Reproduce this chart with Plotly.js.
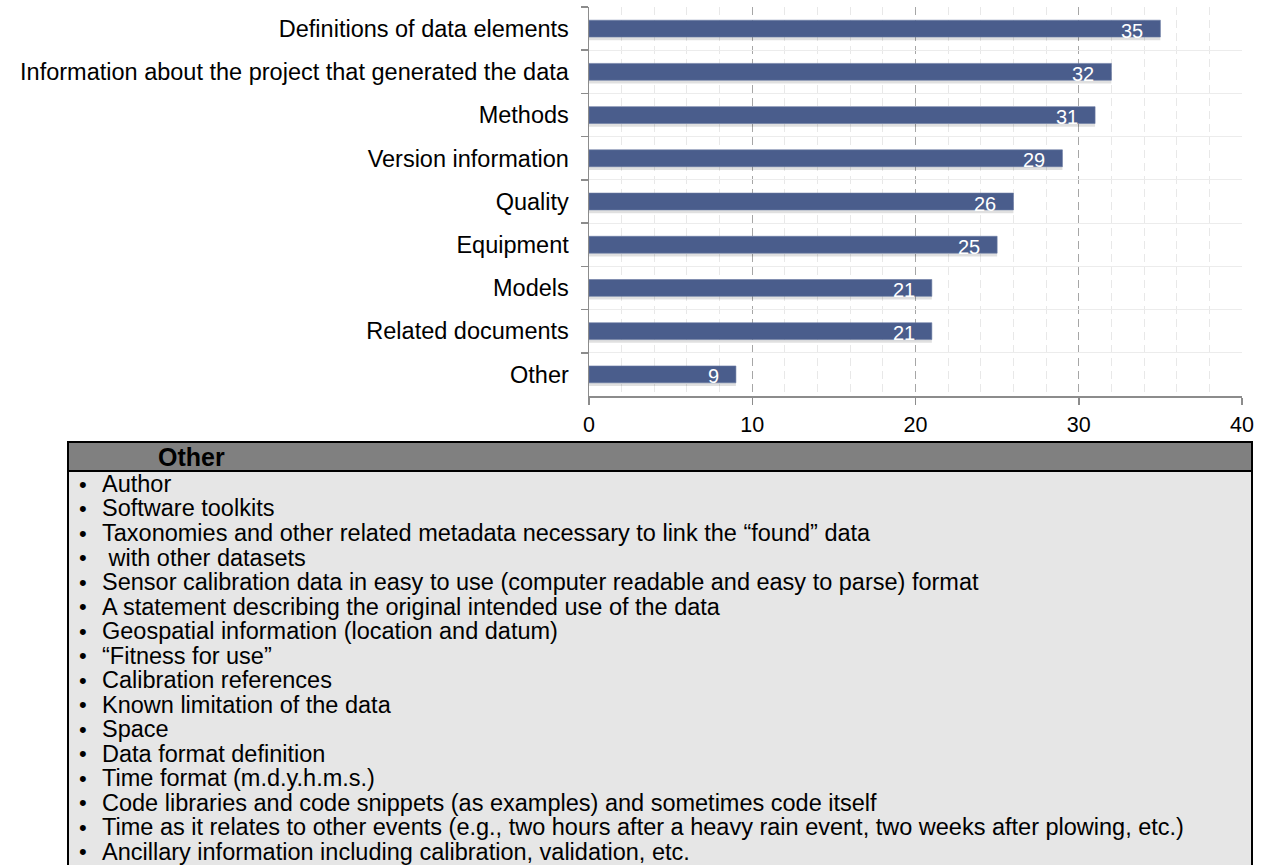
<!DOCTYPE html>
<html>
<head>
<meta charset="utf-8">
<script src="https://cdn.plot.ly/plotly-3.0.1.min.js"></script>
<style>
  html, body { margin: 0; padding: 0; background: #ffffff; }
  #chart { width: 1265px; height: 865px; }
</style>
</head>
<body>
<div id="chart"></div>
<script>
// Metadata elements requested, listed top to bottom
const categories = [
  'Definitions of data elements',
  'Information about the project that generated the data',
  'Methods',
  'Version information',
  'Quality',
  'Equipment',
  'Models',
  'Related documents',
  'Other'
];
const counts = [35, 32, 31, 29, 26, 25, 21, 21, 9];

const xTickValues = [0, 10, 20, 30, 40];

// Write-in answers grouped under "Other"
const otherTitle = 'Other';
const otherItems = [
  'Author',
  'Software toolkits',
  'Taxonomies and other related metadata necessary to link the \u201cfound\u201d data',
  ' with other datasets',
  'Sensor calibration data in easy to use (computer readable and easy to parse) format',
  'A statement describing the original intended use of the data',
  'Geospatial information (location and datum)',
  '\u201cFitness for use\u201d',
  'Calibration references',
  'Known limitation of the data',
  'Space',
  'Data format definition',
  'Time format (m.d.y.h.m.s.)',
  'Code libraries and code snippets (as examples) and sometimes code itself',
  'Time as it relates to other events (e.g., two hours after a heavy rain event, two weeks after plowing, etc.)',
  'Ancillary information including calibration, validation, etc.'
];

// Page geometry (pixels)
const W = 1265, H = 865;
const plotL = 589, plotR = 1242, plotT = 7, plotB = 396;
const px = v => (v - plotL) / (plotR - plotL);
const py = v => (plotB - v) / (plotB - plotT);

const FONT = 'Arial, "Liberation Sans", sans-serif';

const barColor = '#4a5d8c';

const traces = [
  {
    // soft drop shadow under each bar
    type: 'bar',
    orientation: 'h',
    y: categories,
    x: counts,
    width: 0.39,
    offset: -0.12,
    marker: { color: 'rgba(0,0,0,0.12)' },
    hoverinfo: 'skip',
    showlegend: false
  },
  {
    type: 'bar',
    orientation: 'h',
    y: categories,
    x: counts,
    width: 0.39,
    marker: { color: barColor, line: { color: '#6a7ba3', width: 0.6 } },
    hoverinfo: 'x+y',
    showlegend: false
  }
];

const annotations = [];

// value labels at the end of each bar
categories.forEach((c, i) => {
  annotations.push({
    xref: 'x', yref: 'y', x: counts[i], y: c,
    text: String(counts[i]),
    showarrow: false, xanchor: 'right', yanchor: 'middle',
    xshift: -15, yshift: -2,
    font: { family: FONT, size: 20, color: '#ffffff' }
  });
});

// box with the "Other" list
const boxL = 68, boxR = 1252, boxT = 442, headB = 471, boxB = 900;
const shapes = [
  {
    type: 'rect', xref: 'paper', yref: 'paper', layer: 'above',
    x0: px(boxL), x1: px(boxR), y0: py(boxB), y1: py(headB),
    fillcolor: '#e6e6e6', line: { color: '#000000', width: 2 }
  },
  {
    type: 'rect', xref: 'paper', yref: 'paper', layer: 'above',
    x0: px(boxL), x1: px(boxR), y0: py(headB), y1: py(boxT),
    fillcolor: '#808080', line: { color: '#000000', width: 2 }
  }
];

annotations.push({
  xref: 'paper', yref: 'paper', x: px(156), y: py((boxT + headB) / 2),
  text: '<b>' + otherTitle + '</b>', showarrow: false,
  xanchor: 'left', yanchor: 'middle',
  font: { family: FONT, size: 25, color: '#000000' }
});

const firstLine = 484, lineStep = 24.5;
otherItems.forEach((t, i) => {
  const yy = py(firstLine + i * lineStep);
  annotations.push({
    xref: 'paper', yref: 'paper', x: px(77), y: yy,
    text: '\u2022', showarrow: false, xanchor: 'left', yanchor: 'middle',
    font: { family: FONT, size: 22, color: '#000000' }
  });
  annotations.push({
    xref: 'paper', yref: 'paper', x: px(100), y: yy,
    text: t.replace(/^ /, '\u00a0'), showarrow: false, xanchor: 'left', yanchor: 'middle',
    font: { family: FONT, size: 23.5, color: '#000000' }
  });
});

const layout = {
  width: W, height: H,
  margin: { l: plotL, r: W - plotR, t: plotT, b: H - plotB, pad: 0 },
  paper_bgcolor: '#ffffff',
  plot_bgcolor: '#ffffff',
  barmode: 'overlay',
  showlegend: false,
  font: { family: FONT, color: '#000000' },
  xaxis: {
    range: [0, 40],
    tickvals: xTickValues,
    ticktext: xTickValues.map(String),
    showgrid: true, gridcolor: '#a6a6a6', griddash: '8px,5px', gridwidth: 1.2,
    minor: { dtick: 2, showgrid: true, gridcolor: '#e8e8e8', gridwidth: 1, ticks: '' },
    showline: true, linecolor: '#8c8c8c', linewidth: 1.5,
    ticks: 'outside', ticklen: 7, tickcolor: '#8c8c8c', tickwidth: 1.5,
    ticklabelstandoff: 2,
    tickfont: { family: FONT, size: 21.5, color: '#000000' },
    zeroline: false, fixedrange: true
  },
  yaxis: {
    type: 'category',
    autorange: 'reversed',
    tickson: 'boundaries',
    showgrid: true, gridcolor: '#ececec', gridwidth: 1,
    showline: true, linecolor: '#8c8c8c', linewidth: 1.5,
    ticks: 'outside', ticklen: 7, tickcolor: '#8c8c8c', tickwidth: 1.5,
    ticklabelstandoff: 14,
    tickfont: { family: FONT, size: 23.5, color: '#000000' },
    fixedrange: true
  },
  shapes: shapes,
  annotations: annotations
};

Plotly.newPlot('chart', traces, layout, { displayModeBar: false, staticPlot: true });
</script>
</body>
</html>
